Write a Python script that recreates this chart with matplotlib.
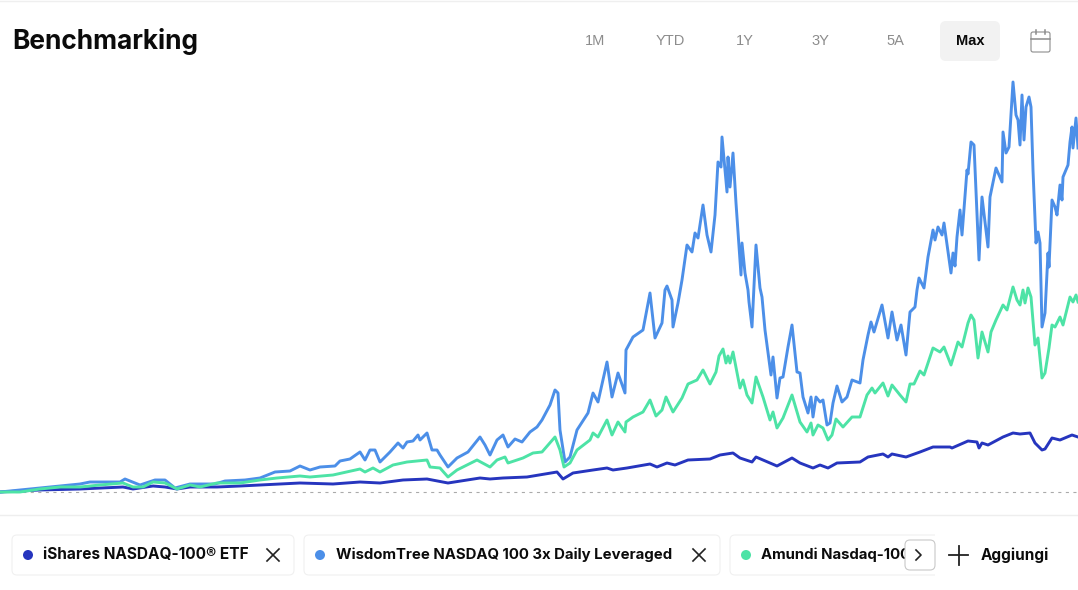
import matplotlib
matplotlib.use("Agg")
import matplotlib.pyplot as plt
from matplotlib.patches import FancyBboxPatch, Rectangle, Circle

# performance series (value = height over the zero line)
x_ishares = [0,40,80,123,133,153,165,177,190,217,240,260,300,333,360,380,403,427,448,480,490,503,527,557,563,573,593,607,613,627,650,657,667,675,688,710,720,733,740,752,756,770,777,792,800,813,820,828,837,860,868,883,888,892,906,920,933,950,952,968,977,979,982,988,1003,1013,1020,1030,1035,1042,1045,1052,1060,1072,1078]
y_ishares = [0,2,3,5,3,6,5,3,5,5,6,7,9,8,10,9,12,13,9,14,13,14,15,20,13,19,22,24,22,24,28,25,29,27,32,33,37,39,34,30,35,29,26,34,29,24,27,24,29,30,35,38,35,38,35,40,45,45,44,51,50,44,49,47,55,59,58,59,49,42,43,54,52,57,55]

x_wisdom = [0,20,40,60,80,90,120,125,140,155,165,175,190,205,215,225,245,260,275,290,300,310,320,335,340,350,360,365,370,375,380,385,390,398,403,407,413,418,420,427,432,437,440,448,457,468,480,485,490,497,503,508,515,522,530,537,542,550,555,558,560,565,570,577,588,593,598,607,612,618,625,626,633,643,650,655,662,665,667,672,673,678,682,687,692,695,698,703,707,711,715,718,721,722,727,728,730,733,736,741,742,745,748,749,752,756,760,762,765,771,773,777,780,783,788,792,797,800,803,808,811,813,816,820,823,827,830,833,837,842,847,852,860,863,868,871,874,882,888,892,897,901,906,910,915,917,919,924,928,933,935,938,942,944,951,953,955,957,960,962,967,968,971,974,977,979,982,988,990,996,1002,1003,1006,1009,1013,1016,1018,1020,1022,1024,1026,1029,1031,1033,1036,1038,1040,1042,1045,1048,1049,1052,1055,1057,1060,1062,1063,1068,1070,1072,1073,1076,1078]
y_wisdom = [0,2,4,6,8,10,10,13,7,12,12,4,8,8,8,11,12,14,20,21,26,22,25,26,31,33,40,32,42,42,30,35,40,49,44,50,51,57,52,59,42,42,37,25,34,40,55,47,37,52,57,45,53,50,60,65,72,87,102,99,62,30,35,62,79,99,90,130,95,119,99,142,155,162,199,154,169,202,206,192,165,189,212,247,240,259,254,287,257,240,277,330,325,355,300,335,305,339,289,217,249,219,202,190,165,247,204,195,162,117,135,94,114,115,145,167,120,119,95,79,95,75,95,90,92,67,69,89,106,90,95,112,109,132,157,170,160,187,154,180,152,167,137,180,185,202,214,204,235,262,252,265,257,269,219,239,226,255,282,257,322,318,350,347,279,232,295,245,295,324,310,360,339,345,410,377,372,347,397,352,385,395,385,322,249,260,249,165,179,239,225,292,285,277,307,292,315,327,350,365,344,374,344]

x_amundi = [0,20,40,60,80,100,123,133,143,153,165,177,190,200,217,240,260,277,300,310,333,360,365,373,380,393,407,427,430,440,448,457,477,490,497,505,508,523,533,542,555,560,564,570,577,590,593,598,607,612,618,625,626,633,643,650,656,662,666,673,682,688,697,703,710,716,719,723,726,728,730,733,740,743,747,752,756,763,770,773,777,783,792,800,807,811,813,818,823,828,832,836,843,852,860,867,872,875,883,888,892,900,906,910,914,920,924,933,940,944,951,958,962,968,971,974,978,982,988,991,996,1003,1007,1013,1017,1020,1023,1025,1028,1031,1035,1038,1042,1045,1049,1052,1055,1060,1063,1070,1073,1076,1078]
y_amundi = [0,0,3,5,5,7,9,5,5,10,9,3,7,5,9,9,12,14,16,15,17,23,20,24,20,27,30,32,25,24,15,22,32,25,32,35,29,34,39,40,55,42,25,29,42,52,59,55,72,57,70,60,70,75,80,92,76,82,95,80,94,108,112,122,108,120,136,143,129,136,129,140,104,112,97,89,115,95,72,80,64,74,97,70,60,69,57,67,64,52,57,73,65,75,75,97,104,99,109,96,107,97,90,108,108,121,117,144,140,145,127,150,145,169,177,172,134,160,140,160,172,187,182,205,192,187,202,189,204,195,147,154,114,119,144,167,165,175,167,195,190,197,190]

periods = ["1M", "YTD", "1Y", "3Y", "5A", "Max"]
period_x = [595, 670, 745, 820, 895, 970]
chips = ["iShares NASDAQ-100® ETF", "WisdomTree NASDAQ 100 3x Daily Leveraged", "Amundi Nasdaq-100"]
chip_size = [11.1, 10.75, 10.75]

DARK = "#2635BE"
BLUE = "#4C8FE8"
GREEN = "#4DE3A6"
W, H = 1078, 590

fig = plt.figure(figsize=(W/100, H/100), dpi=100, facecolor="white")

# whole figure in pixels, for the page bits round the chart
ui = fig.add_axes([0, 0, 1, 1])
ui.set_xlim(0, W)
ui.set_ylim(H, 0)
ui.axis("off")

def box(x, y, w, h, r, fc, ec="none", z=2):
    p = FancyBboxPatch((x+r, y+r), w-2*r, h-2*r, boxstyle="round,pad=%d" % r, fc=fc, ec=ec, lw=0.8, zorder=z)
    ui.add_patch(p)

ui.plot([0, W], [0.5, 0.5], color="#efefef", lw=1)
ui.plot([0, W], [514.5, 514.5], color="#eeeeee", lw=1)

ui.text(12, 41.5, "Benchmarking", fontsize=18.9, fontweight="bold", family="Inter", va="center", color="#0b0b0b")

box(940, 21, 60, 40, 6, "#f2f2f2")
for p, px in zip(periods, period_x):
    if p == "Max":
        ui.text(px, 41, p, fontsize=10.5, fontweight="bold", family="Liberation Sans", ha="center", va="center", color="#0b0b0b", zorder=3)
    else:
        ui.text(px, 41, p, fontsize=10.5, family="Liberation Sans", ha="center", va="center", color="#8c8c8c", zorder=3)

# calendar icon
box(1031, 32, 19, 20, 2, "white", ec="#8c8c8c")
ui.plot([1031, 1050], [39, 39], color="#8c8c8c", lw=1.1, zorder=3)
ui.plot([1036, 1036], [30, 34], color="#8c8c8c", lw=1.1, zorder=3)
ui.plot([1045, 1045], [30, 34], color="#8c8c8c", lw=1.1, zorder=3)

# legend chips
box(12, 535, 282, 40, 5, "white", ec="#f0f0f0")
box(304, 535, 416, 40, 5, "white", ec="#f0f0f0")
box(730, 535, 240, 40, 5, "white", ec="#f0f0f0")
for cx, col in zip([28, 320, 746], [DARK, BLUE, GREEN]):
    ui.add_patch(Circle((cx, 555), 5, fc=col, ec="none", zorder=3))
for tx, t, fs in zip([43, 336, 761], chips, chip_size):
    ui.text(tx, 555, t, fontsize=fs, fontweight="bold", family="Inter", va="center", color="#0b0b0b", zorder=3)
for cx in [273, 699]:
    ui.plot([cx-6, cx+6], [549, 561], color="#222222", lw=1.2, zorder=3)
    ui.plot([cx-6, cx+6], [561, 549], color="#222222", lw=1.2, zorder=3)

# scroll button hides the end of the third chip
ui.add_patch(Rectangle((935, 530), 143, 50, fc="white", ec="none", zorder=4))
ui.add_patch(Rectangle((905, 541), 30, 28, fc="white", ec="none", zorder=4))
box(905, 540, 30, 30, 5, "white", ec="#c8c8c8", z=5)
ui.plot([916, 921, 916], [550, 555, 560], color="#222222", lw=1.2, zorder=6)
ui.plot([949, 968], [555, 555], color="#222222", lw=1.3, zorder=6)
ui.plot([958.5, 958.5], [545.5, 564.5], color="#222222", lw=1.3, zorder=6)
ui.text(981, 555, "Aggiungi", fontsize=11, fontweight="bold", family="Inter", va="center", color="#0b0b0b", zorder=6)

# the chart itself
ax = fig.add_axes([0, 1-500/H, 1, 425/H])
ax.patch.set_alpha(0)
ax.set_xlim(0, W)
ax.set_ylim(-8, 417)
ax.axis("off")
ax.axhline(0.5, color="#aaaaaa", lw=0.8, linestyle=(0, (2.8, 4)))
ax.plot(x_ishares, y_ishares, color=DARK, lw=2.1)
ax.plot(x_wisdom, y_wisdom, color=BLUE, lw=2.1)
ax.plot(x_amundi, y_amundi, color=GREEN, lw=2.1)

fig.savefig("out.png", dpi=100)
